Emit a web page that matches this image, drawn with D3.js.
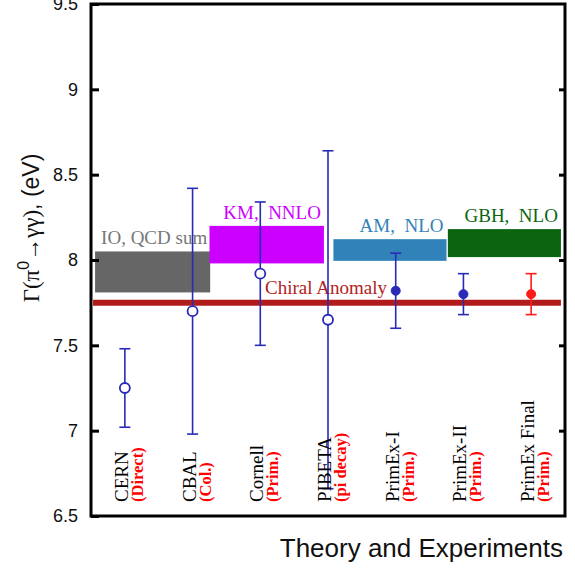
<!DOCTYPE html>
<html><head><meta charset="utf-8">
<script src="https://cdn.jsdelivr.net/npm/d3@7"></script>
<style>body{margin:0;background:#fff}</style>
</head><body><svg id="c" width="575" height="573"></svg>
<script>
const expNames = ["CERN","CBAL","Cornell","PIBETA","PrimEx-I","PrimEx-II","PrimEx Final"];
const expTypes = ["(Direct)","(Col.)","(Prim.)","(pi decay)","(Prim.)","(Prim.)","(Prim.)"];
const expValues = [7.25,7.70,7.92,7.65,7.82,7.80,7.80];
const expHigh = [7.48,8.42,8.34,8.64,8.04,7.92,7.92];
const expLow = [7.02,6.98,7.50,6.66,7.60,7.68,7.68];
const expFilled = [false,false,false,false,true,true,true];
const expColors = ["#2a2ab8","#2a2ab8","#2a2ab8","#2a2ab8","#2a2ab8","#2a2ab8","#ff1a1a"];

const theoryNames = ["IO, QCD sum","KM,  NNLO","AM,  NLO","GBH,  NLO"];
const theoryLow = [7.81,7.98,7.995,8.017];
const theoryHigh = [8.05,8.20,8.122,8.181];
const theoryX0 = [0.06,1.75,3.58,5.27];
const theoryX1 = [1.76,3.44,5.25,6.94];
const theoryColors = ["#666666","#cc00ff","#3182b8","#0c6411"];
const theoryTextColors = ["#777777","#cc00ff","#3182b8","#0c6411"];

const chiralValue = 7.75;
const yTicks = [6.5,7,7.5,8,8.5,9,9.5];

const svg = d3.select("#c");
const L=91, R=565, T=4, B=516;
const x = d3.scaleLinear().domain([0,7]).range([L,R]);
const y = d3.scaleLinear().domain([6.5,9.5]).range([B,T]);
const serif = "'Liberation Serif','Times New Roman',serif";
const sans = "'Liberation Sans',Arial,Helvetica,sans-serif";

// theory bands
theoryNames.forEach((n,i)=>{
  svg.append("rect").attr("x",x(theoryX0[i])).attr("width",x(theoryX1[i])-x(theoryX0[i]))
    .attr("y",y(theoryHigh[i])).attr("height",y(theoryLow[i])-y(theoryHigh[i]))
    .attr("fill",theoryColors[i]);
  svg.append("text").attr("x",x(theoryX1[i])-3).attr("y",y(theoryHigh[i])-7)
    .attr("text-anchor","end").attr("font-family",serif).attr("font-size",19)
    .attr("fill",theoryTextColors[i]).style("white-space","pre").text(n);
});

// chiral anomaly
svg.append("line").attr("x1",x(0.03)).attr("x2",x(6.94)).attr("y1",y(chiralValue)).attr("y2",y(chiralValue))
  .attr("stroke","#b21b1b").attr("stroke-width",6);
svg.append("text").attr("x",265).attr("y",y(chiralValue)-9).attr("font-family",serif).attr("font-size",19)
  .attr("fill","#b22222").text("Chiral Anomaly");

// experiments
expNames.forEach((n,i)=>{
  const cx = x(i+0.5), c = expColors[i];
  const g = svg.append("g");
  g.append("line").attr("x1",cx).attr("x2",cx).attr("y1",y(expHigh[i])).attr("y2",y(expLow[i]))
    .attr("stroke",c).attr("stroke-width",1.6);
  [expHigh[i],expLow[i]].forEach(v=>g.append("line").attr("x1",cx-5.5).attr("x2",cx+5.5)
    .attr("y1",y(v)).attr("y2",y(v)).attr("stroke",c).attr("stroke-width",1.6));
  g.append("circle").attr("cx",cx).attr("cy",y(expValues[i])).attr("r",expFilled[i]?4.5:5)
    .attr("fill",expFilled[i]?c:"#fff").attr("stroke",c).attr("stroke-width",expFilled[i]?1:1.8);
  svg.append("text").attr("transform",`translate(${cx+3},502) rotate(-90)`)
    .attr("font-family",serif).attr("font-size",19).attr("fill","#000").text(n);
  svg.append("text").attr("transform",`translate(${cx+18},502) rotate(-90)`)
    .attr("font-family",serif).attr("font-size",16.5).attr("font-weight","bold").attr("fill","#ff0000").text(expTypes[i]);
});

// frame
svg.append("rect").attr("x",L).attr("y",T).attr("width",R-L).attr("height",B-T)
  .attr("fill","none").attr("stroke","#000").attr("stroke-width",3);
// ticks
const yAxis = d3.axisLeft(y).tickValues(yTicks).tickSize(-8).tickPadding(13).tickFormat(d3.format("~g"));
const ga = svg.append("g").attr("transform",`translate(${L},0)`).call(yAxis);
ga.select(".domain").remove();
ga.selectAll(".tick line").attr("stroke-width",3);
ga.selectAll(".tick text").attr("font-family",sans).attr("font-size",18).attr("fill","#111");
const yAxisR = d3.axisRight(y).tickValues(yTicks.slice(1,-1)).tickSize(-6).tickFormat("");
const gr = svg.append("g").attr("transform",`translate(${R},0)`).call(yAxisR);
gr.select(".domain").remove();
gr.selectAll(".tick line").attr("stroke-width",3);

// axis titles
const yl = svg.append("text").attr("transform","translate(39,228) rotate(-90)")
  .attr("text-anchor","middle").attr("font-size",23).attr("fill","#111");
yl.append("tspan").attr("font-family",serif).text("Γ(π");
yl.append("tspan").attr("font-family",sans).attr("font-size",16).attr("dy",-10).text("0");
yl.append("tspan").attr("font-family",serif).attr("dy",10).text("→γγ)");
yl.append("tspan").attr("font-family",sans).text(", (eV)");

svg.append("text").attr("x",563).attr("y",557).attr("text-anchor","end").attr("font-family",sans)
  .attr("font-size",26).attr("fill","#111").text("Theory and Experiments");
</script></body></html>
